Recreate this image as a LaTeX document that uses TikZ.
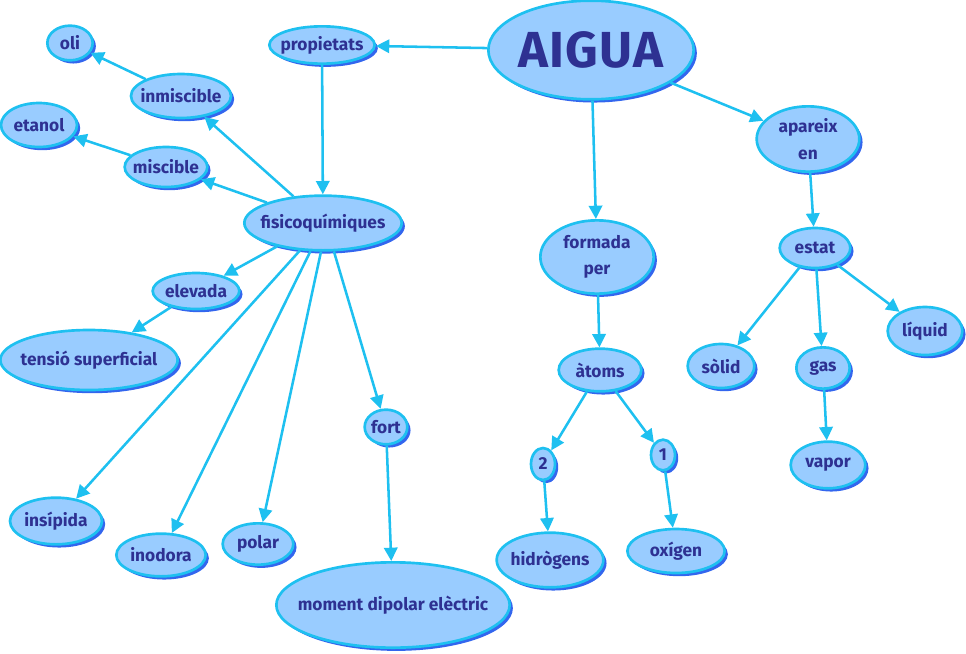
\documentclass[tikz,border=0pt]{standalone}
\usepackage{fontspec}
\setmainfont{Fira Sans}
\usetikzlibrary{shapes.geometric,shadows,arrows.meta}
\definecolor{bubfill}{HTML}{99CCFF}
\definecolor{bubline}{HTML}{1EC0F0}
\definecolor{bubshadow}{HTML}{3366EE}
\definecolor{ink}{HTML}{2E3192}
\newcommand{\lbl}[1]{\makebox[0pt]{#1}}

\begin{document}
\begin{tikzpicture}[x=0.75pt, y=-0.75pt,
	bub/.style={ellipse, draw=bubline, line width=2pt, fill=bubfill, text=ink, inner sep=0pt, align=center,
		font=\fontsize{13}{20}\selectfont\bfseries,
		drop shadow={shadow xshift=2.4pt, shadow yshift=-2.4pt, fill=bubshadow, opacity=1}},
	arr/.style={draw=bubline, line width=1.9pt, -{Triangle[length=10pt,width=10pt]}}]
	\useasboundingbox (0,0) rectangle (966,653);
	% centre
	\node[bub, minimum width=154pt, minimum height=74pt, font=\fontsize{38}{44}\selectfont\bfseries] (aigua) at (591,50) {\lbl{A\kern1pt I\kern1pt G\kern1pt U\kern1pt A}};
	% propietats
	\node[bub, minimum width=79pt, minimum height=28pt] (prop) at (322,45) {\lbl{propietats}};
	\node[bub, minimum width=118pt, minimum height=41pt] (fisico) at (323,223) {\lbl{fisicoquímiques}};
	\node[bub, minimum width=34pt, minimum height=26pt] (oli) at (70,43) {\lbl{oli}};
	\node[bub, minimum width=75pt, minimum height=33pt] (inmisc) at (181,96) {\lbl{inmiscible}};
	\node[bub, minimum width=57pt, minimum height=33pt] (etanol) at (39,125) {\lbl{etanol}};
	\node[bub, minimum width=62pt, minimum height=30pt] (misc) at (166,167) {\lbl{miscible}};
	\node[bub, minimum width=65pt, minimum height=27pt] (elevada) at (196,291) {\lbl{elevada}};
	\node[bub, minimum width=133pt, minimum height=45pt] (tensio) at (89,360) {\lbl{tensió superficial}};
	\node[bub, minimum width=69pt, minimum height=35pt] (insipida) at (56,521) {\lbl{insípida}};
	\node[bub, minimum width=67pt, minimum height=32pt] (inodora) at (161,555) {\lbl{inodora}};
	\node[bub, minimum width=53pt, minimum height=31pt] (polar) at (258,544) {\lbl{polar}};
	\node[bub, minimum width=32pt, minimum height=26pt] (fort) at (386,427) {\lbl{fort}};
	\node[bub, minimum width=175pt, minimum height=64pt] (moment) at (393,605) {\lbl{moment dipolar elèctric}};
	% formada per
	\node[bub, minimum width=85pt, minimum height=55pt] (formada) at (597,257) {formada\\per};
	\node[bub, minimum width=62pt, minimum height=32pt] (atoms) at (600,370) {\lbl{àtoms}};
	\node[bub, minimum width=18pt, minimum height=24pt] (dos) at (543,464) {\lbl{2}};
	\node[bub, minimum width=18pt, minimum height=23pt] (un) at (663,455) {\lbl{1}};
	\node[bub, minimum width=80pt, minimum height=41pt] (hidro) at (550,560) {\lbl{hidrògens}};
	\node[bub, minimum width=73pt, minimum height=33pt] (oxigen) at (676,551) {\lbl{oxígen}};
	% apareix en
	\node[bub, minimum width=77pt, minimum height=49pt] (apareix) at (808,139) {apareix\\en};
	\node[bub, minimum width=53pt, minimum height=30pt] (estat) at (815,248) {\lbl{estat}};
	\node[bub, minimum width=50pt, minimum height=33pt] (solid) at (721,366) {\lbl{sòlid}};
	\node[bub, minimum width=40pt, minimum height=31pt] (gas) at (823,368) {\lbl{gas}};
	\node[bub, minimum width=56pt, minimum height=36pt] (liquid) at (925,331) {\lbl{líquid}};
	\node[bub, minimum width=56pt, minimum height=35pt] (vapor) at (828,465) {\lbl{vapor}};
	% fletxes
	\draw[arr] (aigua) -- (prop);
	\draw[arr] (aigua) -- (formada);
	\draw[arr] (aigua) -- (apareix);
	\draw[arr] (prop) -- (fisico);
	\draw[arr] (fisico.138) -- (inmisc);
	\draw[arr] (fisico.160) -- (misc);
	\draw[arr] (inmisc) -- (oli);
	\draw[arr] (misc) -- (etanol);
	\draw[arr] (fisico.207) -- (elevada);
	\draw[arr] (elevada) -- (tensio);
	\draw[arr] (fisico.230) -- (insipida);
	\draw[arr] (fisico.246) -- (inodora);
	\draw[arr] (fisico.266) -- (polar);
	\draw[arr] (fisico.291) -- (fort);
	\draw[arr] (fort) -- (moment);
	\draw[arr] (formada) -- (atoms);
	\draw[arr] (atoms) -- (dos);
	\draw[arr] (atoms) -- (un);
	\draw[arr] (dos) -- (hidro);
	\draw[arr] (un) -- (oxigen);
	\draw[arr] (apareix) -- (estat);
	\draw[arr] (estat) -- (solid);
	\draw[arr] (estat) -- (gas);
	\draw[arr] (estat) -- (liquid);
	\draw[arr] (gas) -- (vapor);
\end{tikzpicture}
\end{document}
